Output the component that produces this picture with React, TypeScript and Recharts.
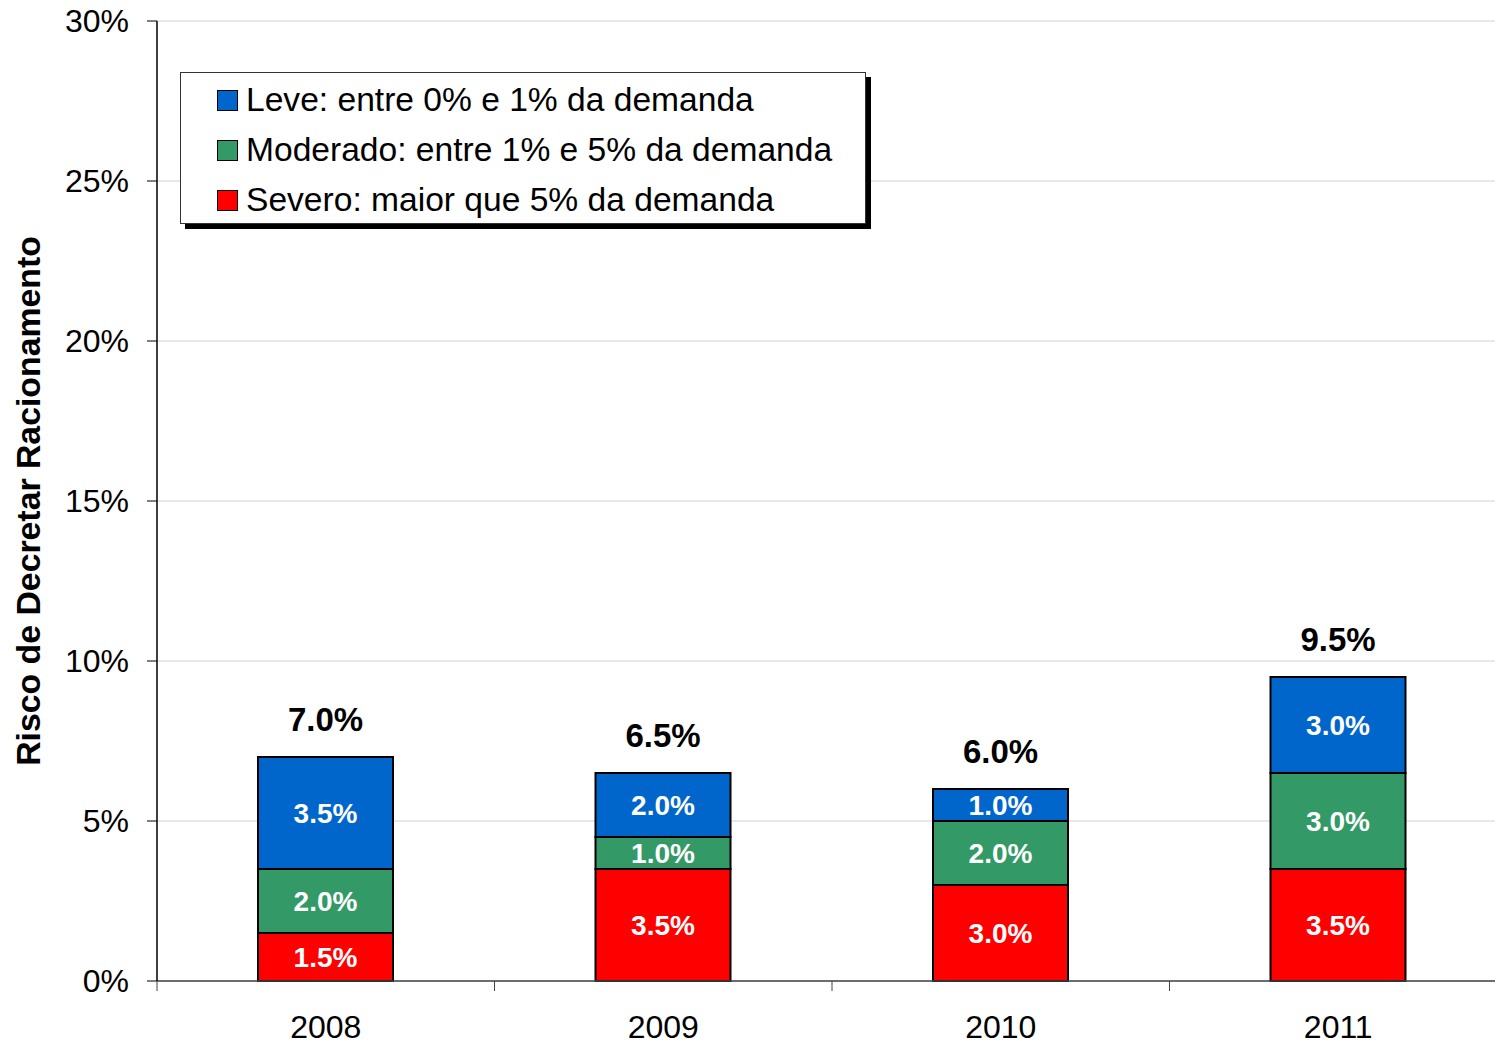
import { BarChart, Bar, XAxis, YAxis, CartesianGrid, Legend, LabelList } from 'recharts'

const years = ['2008', '2009', '2010', '2011']
const severo = [1.5, 3.5, 3.0, 3.5]
const moderado = [2.0, 1.0, 2.0, 3.0]
const leve = [3.5, 2.0, 1.0, 3.0]
const yTicks = [0, 5, 10, 15, 20, 25, 30]

const SERIES = [
  { key: 'leve', name: 'Leve: entre 0% e 1% da demanda', color: '#0066CC' },
  { key: 'moderado', name: 'Moderado: entre 1% e 5% da demanda', color: '#339966' },
  { key: 'severo', name: 'Severo: maior que 5% da demanda', color: '#FF0000' },
]

const data = years.map((year, i) => ({
  year,
  severo: severo[i],
  moderado: moderado[i],
  leve: leve[i],
  total: severo[i] + moderado[i] + leve[i],
}))

const W = 1495
const H = 1044
// the plot area runs a little past the right edge of the picture
const CHART_W = 1507
const LEFT = 157
const FONT = '"Liberation Sans", Arial, sans-serif'
const band = (CHART_W - LEFT) / years.length

const pct = (v: number) => `${Number(v).toFixed(1)}%`

const XTick = ({ x, y, payload, index }: any) => (
  <g>
    <line x1={x - band / 2} x2={x - band / 2} y1={y - 10} y2={y} stroke='#444' strokeWidth={1} />
    {index === years.length - 1 && (
      <line x1={x + band / 2} x2={x + band / 2} y1={y - 10} y2={y} stroke='#444' strokeWidth={1} />
    )}
    <text x={x} y={y + 36} textAnchor='middle' dominantBaseline='central' fill='#000' fontSize={32} fontFamily={FONT}>
      {payload.value}
    </text>
  </g>
)

const TotalLabel = ({ x, y, width, value }: any) => (
  <text
    x={x + width / 2}
    y={y - 38}
    textAnchor='middle'
    dominantBaseline='central'
    fill='#000'
    fontSize={33}
    fontWeight='bold'
    fontFamily={FONT}
  >
    {pct(value)}
  </text>
)

const LegendBox = () => (
  <div
    style={{
      width: 686,
      height: 152,
      boxSizing: 'border-box',
      border: '1px solid #333',
      background: '#fff',
      boxShadow: '5px 5px 0 #000',
      padding: '2px 0 0 36px',
      fontFamily: FONT,
      fontSize: 33.6,
      textAlign: 'left',
    }}
  >
    {SERIES.map((s) => (
      <div key={s.key} style={{ height: 50, display: 'flex', alignItems: 'center' }}>
        <span
          style={{
            display: 'inline-block',
            width: 19,
            height: 19,
            background: s.color,
            border: '1.5px solid #000',
            marginRight: 8,
          }}
        />
        <span style={{ color: '#000' }}>{s.name}</span>
      </div>
    ))}
  </div>
)

const App = () => {
  return (
    <div style={{ width: W, height: H, background: '#fff', overflow: 'hidden' }}>
      <style>{'html, body { margin: 0; padding: 0; overflow: hidden; }'}</style>
      <BarChart width={CHART_W} height={H} data={data} margin={{ top: 21, right: 0, left: 0, bottom: 0 }} barSize={135}>
        <CartesianGrid vertical={false} stroke='#d0d0d0' />
        <XAxis
          dataKey='year'
          height={H - 981}
          tick={<XTick />}
          tickLine={false}
          tickSize={10}
          tickMargin={0}
          axisLine={{ stroke: '#444', strokeWidth: 1.5 }}
        />
        <YAxis
          width={LEFT}
          domain={[0, 30]}
          ticks={yTicks}
          tickFormatter={(v) => `${v}%`}
          tickSize={10}
          tickMargin={18}
          tick={{ fill: '#000', fontSize: 32, fontFamily: FONT }}
          tickLine={{ stroke: '#000' }}
          axisLine={{ stroke: '#000', strokeWidth: 1.5 }}
          label={{
            value: 'Risco de Decretar Racionamento',
            angle: -90,
            position: 'insideLeft',
            offset: 28,
            style: { textAnchor: 'middle', fontWeight: 'bold', fontSize: 33.8, fontFamily: FONT, fill: '#000' },
          }}
        />
        <Legend
          layout='vertical'
          align='center'
          verticalAlign='middle'
          content={<LegendBox />}
          wrapperStyle={{ position: 'absolute', left: 180, top: 72, width: 686, height: 152 }}
        />
        {[...SERIES].reverse().map((s) => (
          <Bar
            key={s.key}
            dataKey={s.key}
            name={s.name}
            stackId='a'
            fill={s.color}
            stroke='#000'
            strokeWidth={2}
            isAnimationActive={false}
          >
            <LabelList
              dataKey={s.key}
              position='center'
              formatter={(v: any) => pct(v)}
              fill='#fff'
              fontSize={28}
              fontWeight='bold'
              fontFamily={FONT}
            />
            {s.key === 'leve' && <LabelList dataKey='total' content={<TotalLabel />} />}
          </Bar>
        ))}
      </BarChart>
    </div>
  )
}

export default App
